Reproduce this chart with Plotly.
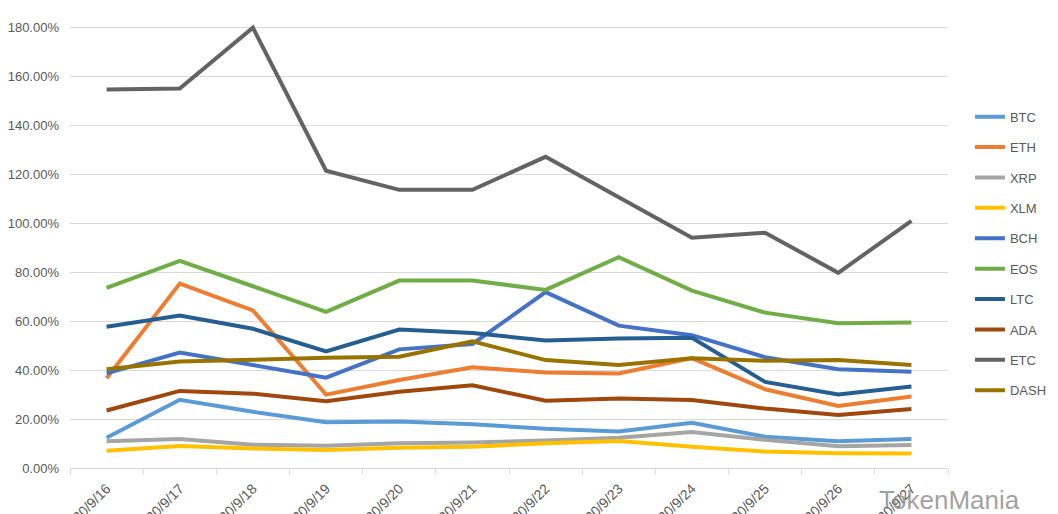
import plotly.graph_objects as go

dates = ["2020/9/16", "2020/9/17", "2020/9/18", "2020/9/19", "2020/9/20", "2020/9/21",
         "2020/9/22", "2020/9/23", "2020/9/24", "2020/9/25", "2020/9/26", "2020/9/27"]

BTC = [12.4, 27.9, 23.0, 18.7, 19.0, 17.9, 16.0, 14.9, 18.5, 12.8, 10.9, 11.9]
ETH = [36.7, 75.4, 64.4, 30.0, 36.0, 41.2, 39.0, 38.6, 44.9, 32.2, 25.4, 29.2]
XRP = [10.9, 11.9, 9.5, 9.1, 10.1, 10.4, 11.2, 12.4, 14.7, 11.5, 8.9, 9.4]
XLM = [7.1, 9.0, 8.0, 7.4, 8.3, 8.7, 10.1, 11.0, 8.7, 6.7, 6.0, 5.9]
BCH = [38.7, 47.2, 42.1, 36.9, 48.5, 50.7, 71.9, 58.2, 54.3, 45.3, 40.4, 39.3]
EOS = [73.6, 84.7, 74.3, 63.8, 76.6, 76.6, 72.8, 86.2, 72.5, 63.5, 59.2, 59.5]
LTC = [57.7, 62.3, 56.9, 47.7, 56.6, 55.2, 52.1, 52.9, 53.2, 35.2, 30.1, 33.3]
ADA = [23.5, 31.5, 30.4, 27.3, 31.2, 33.8, 27.5, 28.4, 27.8, 24.3, 21.7, 24.1]
ETC = [154.7, 155.1, 180.0, 121.5, 113.7, 113.7, 127.2, 110.5, 94.1, 96.2, 79.8, 101.0]
DASH = [40.4, 43.5, 44.2, 45.1, 45.5, 51.8, 44.1, 42.1, 44.9, 43.8, 44.1, 42.1]

series = [("BTC", BTC, "#5B9BD5"), ("ETH", ETH, "#ED7D31"), ("XRP", XRP, "#A5A5A5"),
          ("XLM", XLM, "#FFC000"), ("BCH", BCH, "#4472C4"), ("EOS", EOS, "#70AD47"),
          ("LTC", LTC, "#255E91"), ("ADA", ADA, "#9E480E"), ("ETC", ETC, "#636363"),
          ("DASH", DASH, "#997300")]

y_ticks = [0, 0.2, 0.4, 0.6, 0.8, 1.0, 1.2, 1.4, 1.6, 1.8]

fig = go.Figure()
for name, vals, color in series:
    fig.add_trace(go.Scatter(
        x=dates, y=[v / 100 for v in vals], name=name, mode="lines",
        line=dict(color=color, width=4), legendgroup=name,
    ))

font_family = "Liberation Sans"
fig.update_layout(
    width=1058, height=514,
    margin=dict(l=70, r=110, t=24, b=46, autoexpand=False),
    paper_bgcolor="white", plot_bgcolor="white",
    font=dict(family=font_family, size=12, color="#595959"),
    showlegend=True,
    legend=dict(x=1.025, y=0.825, xanchor="left", yanchor="top",
                font=dict(size=13, color="#595959"),
                traceorder="grouped", tracegroupgap=10.5, itemwidth=30,
                bgcolor="rgba(0,0,0,0)"),
    xaxis=dict(type="category", tickangle=-45, showgrid=False,
               showline=True, linecolor="#D9D9D9", linewidth=1,
               ticks="outside", tickson="boundaries", ticklen=5, tickcolor="#D9D9D9",
               ticklabelstandoff=6,
               tickfont=dict(size=14, color="#595959"), automargin=False,
               range=[-0.5, 11.5]),
    yaxis=dict(range=[0, 1.815], tickvals=y_ticks, tickformat=".2%",
               showgrid=True, gridcolor="#D9D9D9", gridwidth=1,
               zeroline=False, showline=False, ticks="", ticklabelstandoff=10,
               tickfont=dict(size=13, color="#595959"), automargin=False),
)

fig.add_annotation(text="TokenMania", xref="paper", yref="paper",
                   x=1.084, y=-0.072, xanchor="right", yanchor="middle",
                   showarrow=False,
                   font=dict(family="Liberation Sans", size=26, color="rgba(130,130,130,0.75)"))

fig.write_html("out.html", post_script="document.body.style.margin='0';",
               config={"displayModeBar": False})
